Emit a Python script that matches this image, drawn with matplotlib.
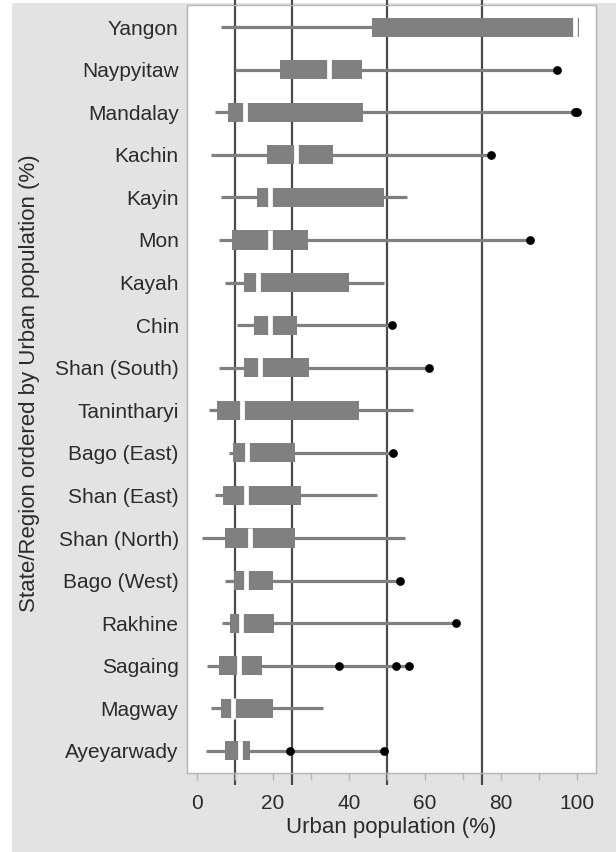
import matplotlib
matplotlib.use("Agg")
import matplotlib.pyplot as plt
import matplotlib.transforms as mtransforms
from matplotlib.patches import Rectangle

plt.rcParams['font.family'] = ['Liberation Sans', 'DejaVu Sans']

regions = ["Yangon", "Naypyitaw", "Mandalay", "Kachin", "Kayin", "Mon", "Kayah", "Chin",
           "Shan (South)", "Tanintharyi", "Bago (East)", "Shan (East)", "Shan (North)",
           "Bago (West)", "Rakhine", "Sagaing", "Magway", "Ayeyarwady"]
whisker_min = [6.2, 10.0, 4.7, 3.6, 6.2, 5.9, 7.4, 10.4, 5.9, 3.2, 8.4, 4.7, 1.2, 7.4, 6.7, 2.7, 3.6, 2.5]
q1 = [46.0, 21.8, 8.2, 18.3, 15.7, 9.1, 12.4, 15.0, 12.4, 5.2, 9.6, 6.8, 7.4, 9.7, 8.7, 5.8, 6.2, 7.4]
median = [99.6, 34.8, 12.6, 26.0, 19.2, 19.2, 16.1, 19.2, 16.6, 11.9, 13.1, 12.9, 13.9, 12.9, 11.6, 11.1, 9.4, 11.3]
q3 = [100.5, 43.3, 43.8, 35.9, 49.2, 29.1, 40.1, 26.4, 29.5, 42.6, 25.8, 27.4, 25.8, 20.1, 20.3, 17.0, 20.1, 13.9]
whisker_max = [100.0, 94.7, 100.0, 77.5, 55.2, 87.6, 49.3, 51.4, 61.1, 56.8, 51.7, 47.5, 54.7, 53.4, 68.1, 55.7, 33.2, 49.2]
outliers = [[], [94.7], [99.5, 100.0], [77.5], [], [87.6], [], [51.4], [61.1], [], [51.7], [], [], [53.4],
            [68.1], [37.4, 52.3, 55.7], [], [24.6, 49.2]]
ref_lines = [10, 25, 50, 75]
xticks_major = [0, 20, 40, 60, 80, 100]
xticks_minor = [10, 30, 50, 70, 90]

fig = plt.figure(figsize=(6.16, 8.52), dpi=100, facecolor='white')
# gray panel background
fig.patches.append(Rectangle((12/616, 0), 1 - 12/616, 1 - 3/852, transform=fig.transFigure,
                             facecolor='#e3e3e3', edgecolor='none', zorder=-10))

ax = fig.add_axes([187/616, 1 - 773/852, (596 - 187)/616, (773 - 5)/852])
ax.set_facecolor('white')
n = len(regions)
ax.set_xlim(-2.63, 105.0)
ax.set_ylim(n - 0.48, -0.52)

trans = mtransforms.blended_transform_factory(ax.transData, ax.transAxes)
for v in ref_lines:
    ax.plot([v, v], [-0.016, 1.006], transform=trans, color='#4a4a4a', lw=1.6,
            clip_on=False, zorder=1, solid_capstyle='butt')

gray = '#808080'
box_h = 0.45
for i in range(n):
    ax.plot([whisker_min[i], whisker_max[i]], [i, i], color=gray, lw=2.3, zorder=2,
            solid_capstyle='butt')
    ax.barh(i, q3[i] - q1[i], left=q1[i], height=box_h, color=gray, zorder=3, linewidth=0)
    ax.plot([median[i], median[i]], [i - box_h/2 - 0.02, i + box_h/2 + 0.02], color='white',
            lw=3.4, zorder=4, solid_capstyle='butt')
    if outliers[i]:
        ax.plot(outliers[i], [i]*len(outliers[i]), 'o', color='black', ms=6.3, zorder=5,
                markeredgewidth=0)

ax.set_yticks(range(n))
ax.set_yticklabels(regions)
ax.tick_params(axis='y', length=0, pad=6, labelsize=15, labelcolor='#2b2b2b')
ax.set_xticks(xticks_major)
ax.set_xticks(xticks_minor, minor=True)
ax.tick_params(axis='x', which='both', length=5, width=1, color='#b8b8b8', pad=10,
               labelsize=15, labelcolor='#2b2b2b')
for s in ax.spines.values():
    s.set_color('#b5b5b5')
    s.set_linewidth(1.0)

ax.set_xlabel('Urban population (%)', fontsize=16, color='#2b2b2b', labelpad=3)
fig.text(30/616, 1 - 383/852, 'State/Region ordered by Urban population (%)', rotation=90,
         ha='center', va='center', fontsize=16, color='#2b2b2b')

fig.savefig('out.png', dpi=100, facecolor=fig.get_facecolor())
